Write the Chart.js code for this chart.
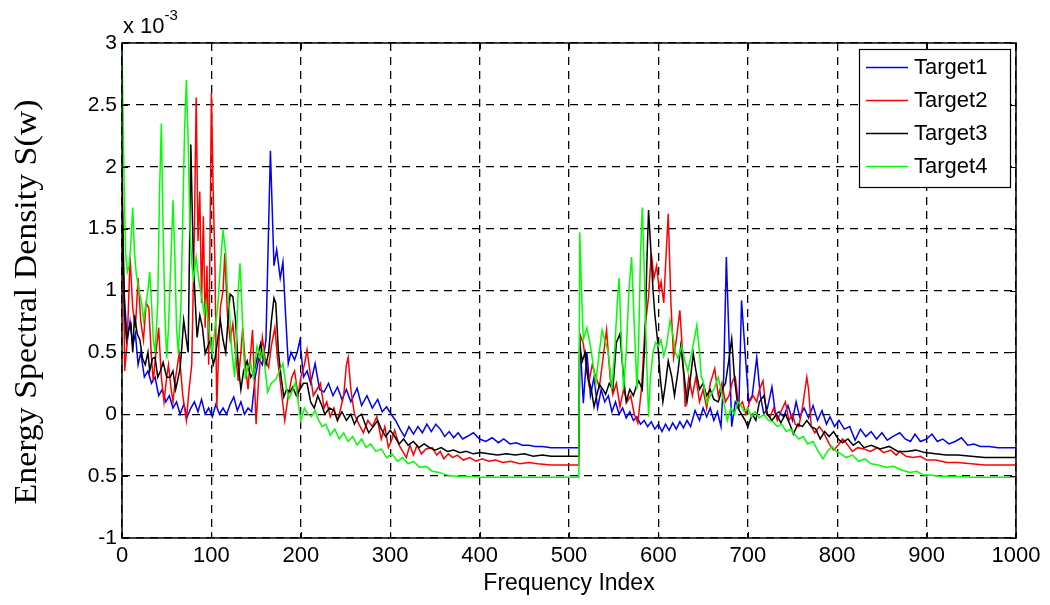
<!DOCTYPE html>
<html lang="en">
<head>
  <meta charset="UTF-8">
  <title>Energy Spectral Density</title>
  <script src="https://cdn.jsdelivr.net/npm/chart.js"></script>
  <style>
    * { margin: 0; padding: 0; box-sizing: border-box; }
    body { background: #fff; width: 1050px; height: 605px; overflow: hidden; }
    .chart-box { position: relative; width: 1050px; height: 605px; }
  </style>
</head>
<body>
  <div class="chart-box">
    <canvas id="esdChart"></canvas>
  </div>

  <script>
    // values in units of 1e-3 as [frequency index, S(w)]
    const target1 = [
      [0,1.35],[3,0.9],[6,0.6],[9,0.75],[12,0.55],[15,0.65],[18,0.4],[21,0.5],[25,0.3],[29,0.35],
      [33,0.25],[37,0.3],[41,0.15],[45,0.2],[49,0.1],[53,0.15],[57,0.05],[61,0.1],[65,0.0],[69,0.08],
      [73,-0.02],[77,0.05],[81,0.1],[85,0.02],[89,0.12],[93,0.0],[97,0.05],[101,-0.02],[105,0.08],[109,0.0],
      [113,0.05],[117,0.0],[121,0.08],[125,0.14],[129,0.03],[133,0.1],[137,0.0],[141,0.05],[145,0.02],[149,0.3],
      [153,0.45],[157,0.4],[161,0.6],[166,2.13],[170,1.2],[173,1.33],[177,1.1],[180,1.23],[183,0.8],[186,0.41],
      [189,0.5],[193,0.44],[196,0.5],[199,0.6],[203,0.3],[207,0.35],[211,0.25],[216,0.41],[221,0.2],[226,0.18],
      [231,0.25],[236,0.15],[241,0.22],[246,0.12],[251,0.2],[256,0.1],[263,0.21],[268,0.07],[274,0.15],[280,0.05],
      [286,0.12],[291,0.02],[296,0.06],[301,0.0],[306,-0.05],[311,-0.12],[316,-0.18],[321,-0.1],[326,-0.16],[331,-0.1],
      [336,-0.15],[341,-0.08],[346,-0.14],[351,-0.08],[356,-0.12],[361,-0.18],[366,-0.14],[371,-0.19],[376,-0.15],[381,-0.2],
      [386,-0.18],[393,-0.15],[400,-0.2],[407,-0.22],[414,-0.19],[421,-0.23],[427,-0.2],[434,-0.24],[441,-0.23],[448,-0.25],
      [455,-0.25],[462,-0.26],[470,-0.26],[480,-0.27],[490,-0.27],[500,-0.27],[511,-0.27],
      [512,0.65],[516,0.09],[520,0.5],[524,0.15],[528,0.3],[532,0.05],[536,0.2],[540,0.1],[544,0.15],[548,0.02],
      [552,0.1],[556,0.0],[560,0.05],[564,-0.03],[568,0.02],[572,-0.05],[576,-0.02],[580,-0.08],[584,-0.05],[588,-0.1],
      [592,-0.06],[596,-0.12],[600,-0.08],[604,-0.14],[608,-0.08],[612,-0.13],[616,-0.07],[620,-0.12],[624,-0.06],[628,-0.11],
      [632,-0.05],[636,-0.1],[641,0.03],[646,-0.05],[650,0.05],[654,-0.02],[658,0.05],[662,-0.05],[666,0.02],[670,-0.1],
      [673,0.3],[676,1.27],[679,0.6],[682,-0.1],[686,0.1],[690,0.05],[693,0.92],[697,0.5],[701,0.1],[705,0.15],
      [710,0.46],[714,0.15],[718,0.0],[722,0.05],[727,0.22],[731,0.0],[735,0.02],[740,-0.02],[745,0.07],[750,-0.05],
      [754,0.1],[758,-0.02],[763,0.05],[768,-0.03],[773,0.07],[778,-0.05],[783,0.03],[788,-0.08],[792,-0.02],[797,-0.1],
      [802,-0.05],[808,-0.12],[814,-0.1],[820,-0.21],[826,-0.12],[832,-0.18],[838,-0.14],[844,-0.2],[850,-0.15],[856,-0.21],
      [862,-0.18],[870,-0.15],[876,-0.2],[882,-0.22],[887,-0.16],[893,-0.22],[900,-0.2],[906,-0.16],[912,-0.22],[918,-0.2],
      [925,-0.24],[932,-0.22],[939,-0.19],[946,-0.25],[953,-0.24],[960,-0.26],[970,-0.26],[980,-0.27],[990,-0.27],[1000,-0.27]
    ];

    const target2 = [
      [0,2.15],[3,0.35],[6,0.6],[9,1.27],[12,0.86],[15,0.7],[18,1.1],[21,0.75],[24,0.6],[27,0.9],
      [30,0.86],[33,0.45],[35,0.27],[38,0.5],[41,0.7],[44,0.3],[47,0.1],[50,0.3],[52,0.4],[55,0.2],
      [57,0.1],[60,0.3],[64,0.49],[68,0.15],[72,-0.05],[75,0.2],[78,0.4],[81,1.5],[83,2.56],[85,1.4],
      [87,1.8],[89,0.9],[91,1.6],[93,0.7],[95,1.2],[97,0.4],[99,1.8],[100,2.6],[102,1.8],[104,1.2],
      [106,0.05],[108,0.5],[110,0.86],[113,1.0],[115,1.3],[118,0.8],[121,0.6],[124,0.73],[127,0.5],[130,0.27],
      [133,0.5],[135,0.7],[138,0.4],[141,0.2],[144,0.5],[146,0.68],[148,0.3],[150,-0.08],[153,0.3],[157,0.62],
      [160,0.45],[164,0.38],[167,0.55],[171,0.7],[174,0.45],[178,0.2],[182,-0.05],[186,0.15],[190,0.3],[193,0.35],
      [197,0.15],[200,0.3],[204,0.4],[207,0.52],[211,0.3],[214,0.15],[218,0.2],[222,0.25],[226,0.05],[229,0.1],
      [233,-0.02],[237,0.05],[241,-0.05],[244,0.03],[248,0.15],[251,0.4],[253,0.46],[256,0.2],[260,0.0],[265,-0.08],
      [270,-0.15],[275,-0.05],[280,-0.1],[285,-0.02],[290,-0.2],[294,-0.1],[298,-0.27],[302,-0.2],[305,-0.13],[310,-0.25],
      [314,-0.3],[318,-0.35],[322,-0.25],[326,-0.33],[330,-0.25],[335,-0.32],[340,-0.28],[347,-0.27],[352,-0.33],[356,-0.3],
      [360,-0.36],[365,-0.32],[370,-0.35],[375,-0.33],[382,-0.37],[389,-0.35],[396,-0.38],[403,-0.36],[410,-0.38],[418,-0.37],
      [426,-0.39],[435,-0.38],[445,-0.4],[455,-0.39],[465,-0.4],[480,-0.41],[495,-0.41],[511,-0.41],
      [512,0.65],[516,0.57],[520,0.35],[522,0.25],[526,0.4],[530,0.3],[534,0.22],[538,0.45],[542,0.68],[546,0.3],
      [549,0.16],[553,0.25],[557,0.06],[561,0.2],[565,0.1],[569,0.15],[573,0.0],[577,-0.07],[581,0.2],[585,0.7],
      [589,0.95],[592,1.3],[595,1.1],[598,1.2],[601,1.0],[603,1.07],[606,0.9],[608,1.2],[611,1.62],[614,0.9],
      [617,0.46],[620,0.6],[624,0.84],[627,0.5],[630,0.06],[634,0.3],[638,0.15],[642,0.3],[646,0.1],[650,0.2],
      [654,0.05],[658,0.25],[663,0.37],[667,0.15],[671,0.25],[675,0.1],[679,0.15],[683,0.27],[686,0.3],[690,0.06],
      [694,0.1],[698,0.0],[702,0.1],[706,0.15],[710,0.1],[713,0.2],[717,0.27],[721,0.0],[725,-0.02],[729,0.05],
      [733,-0.05],[737,0.02],[742,0.1],[746,-0.05],[750,0.0],[753,-0.08],[757,-0.1],[761,0.05],[764,0.2],[766,0.3],
      [768,0.2],[771,-0.1],[775,-0.15],[780,-0.1],[785,-0.15],[791,-0.24],[796,-0.29],[801,-0.25],[806,-0.2],[811,-0.24],
      [817,-0.3],[823,-0.27],[830,-0.28],[837,-0.3],[845,-0.27],[852,-0.31],[860,-0.29],[866,-0.33],[870,-0.3],[877,-0.34],
      [885,-0.35],[893,-0.34],[900,-0.37],[910,-0.37],[923,-0.39],[935,-0.39],[950,-0.4],[965,-0.41],[980,-0.41],[1000,-0.41]
    ];

    const target3 = [
      [0,1.8],[3,0.8],[5,0.6],[8,0.7],[10,0.73],[12,0.5],[14,0.8],[17,0.65],[20,0.6],[23,0.45],
      [26,0.4],[29,0.5],[31,0.35],[34,0.45],[37,0.46],[40,0.3],[43,0.35],[46,0.42],[50,0.3],[54,0.3],
      [57,0.35],[60,0.2],[63,0.3],[65,0.37],[67,0.55],[69,0.76],[72,0.6],[74,0.5],[76,1.6],[77,2.18],
      [79,1.5],[80,1.2],[82,0.9],[84,0.62],[87,0.8],[90,0.7],[93,0.49],[96,0.55],[99,0.6],[102,0.4],
      [104,0.45],[107,0.6],[110,0.76],[113,0.6],[116,0.5],[119,0.8],[121,0.97],[124,0.95],[127,0.76],[130,0.4],
      [133,0.2],[136,0.35],[140,0.43],[144,0.3],[148,0.35],[151,0.45],[155,0.57],[158,0.45],[161,0.4],[164,0.5],
      [167,0.75],[170,0.94],[172,0.9],[175,0.5],[178,0.3],[181,0.14],[184,0.2],[188,0.18],[191,0.22],[195,0.15],
      [199,0.2],[203,0.25],[207,0.25],[211,0.1],[215,0.05],[219,0.15],[223,0.08],[227,0.0],[232,0.05],[237,0.03],
      [241,-0.05],[246,0.02],[251,-0.05],[256,0.0],[260,-0.08],[264,-0.02],[268,0.0],[272,-0.08],[276,-0.15],[281,-0.1],
      [286,-0.05],[290,-0.12],[295,-0.18],[300,-0.13],[305,-0.18],[310,-0.24],[315,-0.2],[320,-0.25],[326,-0.22],[332,-0.27],
      [338,-0.24],[344,-0.27],[350,-0.29],[357,-0.27],[364,-0.3],[371,-0.29],[378,-0.31],[385,-0.3],[393,-0.32],[401,-0.31],
      [410,-0.32],[420,-0.33],[430,-0.32],[440,-0.33],[450,-0.32],[460,-0.34],[470,-0.33],[480,-0.34],[495,-0.34],[511,-0.34],
      [512,0.54],[515,0.43],[518,0.5],[521,0.3],[525,0.2],[528,0.06],[531,0.15],[534,0.24],[538,0.2],[541,0.16],
      [545,0.25],[549,0.2],[553,0.58],[557,0.65],[561,0.3],[564,0.1],[568,0.2],[572,0.15],[575,0.22],[578,0.27],
      [582,0.2],[585,0.6],[587,1.2],[589,1.65],[591,1.4],[594,1.0],[596,0.81],[599,0.6],[602,0.3],[605,0.1],
      [608,0.25],[611,0.43],[615,0.3],[618,0.15],[622,0.35],[625,0.55],[629,0.3],[632,0.1],[636,0.3],[639,0.49],
      [642,0.35],[646,0.2],[650,0.25],[654,0.15],[658,0.2],[662,0.12],[667,0.1],[671,0.2],[675,0.25],[679,0.45],
      [682,0.61],[685,0.3],[689,0.05],[693,0.0],[697,-0.05],[700,-0.1],[705,0.0],[709,-0.05],[713,0.1],[718,0.15],
      [722,0.0],[727,-0.05],[732,0.0],[737,-0.07],[742,0.0],[747,-0.08],[751,-0.16],[756,-0.08],[761,-0.1],[766,-0.05],
      [771,-0.1],[776,-0.12],[781,-0.2],[786,-0.14],[791,-0.18],[796,-0.14],[801,-0.2],[806,-0.23],[812,-0.2],[818,-0.25],
      [824,-0.22],[830,-0.27],[838,-0.25],[848,-0.28],[858,-0.26],[868,-0.3],[878,-0.3],[888,-0.29],[898,-0.31],[910,-0.32],
      [922,-0.33],[935,-0.33],[950,-0.34],[965,-0.35],[980,-0.35],[1000,-0.35]
    ];

    const target4 = [
      [0,2.95],[2,2.0],[4,1.3],[6,1.15],[8,1.2],[10,1.4],[12,1.67],[14,1.3],[16,1.13],[19,1.0],
      [22,0.9],[24,0.76],[27,0.9],[29,1.0],[31,1.15],[33,0.9],[35,0.6],[37,0.5],[40,0.9],[42,1.8],
      [44,2.35],[46,1.5],[48,0.8],[50,0.45],[52,0.7],[55,1.3],[57,1.73],[59,1.3],[61,0.7],[63,0.49],
      [66,0.9],[68,1.6],[70,2.3],[72,2.7],[74,2.2],[76,1.5],[78,1.22],[80,1.1],[83,1.27],[86,1.08],
      [89,0.95],[92,0.81],[94,0.9],[97,0.7],[101,0.49],[104,0.7],[107,0.86],[110,1.2],[113,1.49],[116,1.3],
      [118,1.0],[120,0.86],[123,0.5],[126,0.3],[128,0.6],[130,1.0],[132,1.22],[134,0.9],[136,0.5],[138,0.3],
      [141,0.38],[144,0.41],[147,0.3],[151,0.55],[155,0.45],[158,0.52],[161,0.3],[163,0.18],[167,0.25],[172,0.28],
      [176,0.35],[180,0.41],[184,0.2],[187,0.13],[191,0.2],[194,0.26],[197,0.1],[200,-0.05],[204,0.05],[208,0.0],
      [212,-0.02],[216,0.03],[220,-0.05],[224,-0.1],[228,-0.08],[233,-0.17],[238,-0.12],[243,-0.2],[248,-0.15],[253,-0.22],
      [258,-0.18],[263,-0.25],[268,-0.2],[273,-0.27],[278,-0.24],[284,-0.3],[290,-0.28],[296,-0.35],[302,-0.32],[308,-0.38],
      [314,-0.35],[320,-0.4],[326,-0.38],[333,-0.43],[340,-0.42],[347,-0.46],[355,-0.47],[363,-0.49],[372,-0.5],[385,-0.5],
      [400,-0.51],[420,-0.51],[450,-0.51],[480,-0.51],[511,-0.51],
      [512,1.47],[514,1.0],[516,0.6],[520,0.7],[524,0.55],[527,0.4],[530,0.25],[533,0.45],[537,0.68],[540,0.6],
      [544,0.5],[548,0.2],[551,0.5],[554,0.9],[556,1.1],[558,0.7],[561,0.2],[564,0.5],[567,1.0],[570,1.27],
      [572,0.9],[576,0.2],[578,0.6],[580,1.3],[582,1.67],[584,1.2],[587,0.4],[589,-0.02],[591,0.3],[594,0.5],
      [597,0.58],[600,0.55],[603,0.6],[606,0.47],[609,0.55],[613,0.76],[616,0.65],[619,0.5],[622,0.45],[626,0.55],
      [630,0.42],[633,0.35],[636,0.45],[640,0.6],[643,0.72],[646,0.5],[648,0.3],[650,0.27],[654,0.09],[658,0.15],
      [662,0.2],[667,0.3],[670,0.2],[673,0.1],[677,-0.05],[681,0.05],[685,0.0],[689,0.1],[692,0.08],[696,0.02],
      [700,0.05],[704,-0.02],[708,0.02],[713,-0.03],[718,0.0],[723,-0.05],[728,-0.06],[733,-0.1],[738,-0.08],[743,-0.14],
      [748,-0.12],[752,-0.16],[757,-0.2],[762,-0.18],[767,-0.24],[773,-0.22],[778,-0.29],[784,-0.36],[789,-0.3],[794,-0.26],
      [799,-0.3],[804,-0.32],[810,-0.35],[817,-0.33],[824,-0.38],[831,-0.36],[838,-0.4],[846,-0.41],[855,-0.43],[863,-0.42],
      [872,-0.45],[881,-0.47],[889,-0.46],[896,-0.49],[905,-0.49],[915,-0.5],[930,-0.5],[950,-0.51],[975,-0.51],[1000,-0.51]
    ];

    const seriesNames = ['Target1', 'Target2', 'Target3', 'Target4'];
    const seriesColors = ['#0000ff', '#ff0000', '#000000', '#00ff00'];
    const xTickValues = [0, 100, 200, 300, 400, 500, 600, 700, 800, 900, 1000];
    const yTickValues = [-1, -0.5, 0, 0.5, 1, 1.5, 2, 2.5, 3];
    const yTickLabels = ['-1', '0.5', '0', '0.5', '1', '1.5', '2', '2.5', '3'];
    const xTitle = 'Frequency Index';
    const yTitle = 'Energy Spectral Density S(w)';

    const sans = '"Liberation Sans", Arial, sans-serif';
    const serif = '"Liberation Serif", "Times New Roman", serif';

    const toPoints = rows => rows.map(r => ({ x: r[0], y: r[1] }));

    // axes box, inward ticks, titles, exponent and legend drawn by hand (MATLAB look)
    const matlabFrame = {
      id: 'matlabFrame',
      afterDatasetsDraw(chart) {
        const { ctx, chartArea: a, scales } = chart;
        ctx.save();
        ctx.strokeStyle = '#000';
        ctx.lineWidth = 1.5;
        ctx.strokeRect(a.left, a.top, a.right - a.left, a.bottom - a.top);
        ctx.lineWidth = 1;
        ctx.beginPath();
        xTickValues.forEach(v => {
          const px = Math.round(scales.x.getPixelForValue(v)) + 0.5;
          ctx.moveTo(px, a.bottom); ctx.lineTo(px, a.bottom - 6);
          ctx.moveTo(px, a.top); ctx.lineTo(px, a.top + 6);
        });
        yTickValues.forEach(v => {
          const py = Math.round(scales.y.getPixelForValue(v)) + 0.5;
          ctx.moveTo(a.left, py); ctx.lineTo(a.left + 6, py);
          ctx.moveTo(a.right, py); ctx.lineTo(a.right - 6, py);
        });
        ctx.stroke();
        ctx.restore();
      },
      afterDraw(chart) {
        const { ctx, chartArea: a } = chart;
        ctx.save();
        ctx.fillStyle = '#000';

        // exponent
        ctx.font = '22px ' + sans;
        ctx.textAlign = 'left';
        ctx.textBaseline = 'alphabetic';
        ctx.fillText('x 10', a.left + 1, 33);
        const w10 = ctx.measureText('x 10').width;
        ctx.font = '15px ' + sans;
        ctx.fillText('-3', a.left + 1 + w10, 20);

        // x title
        ctx.font = '23px ' + sans;
        ctx.textAlign = 'center';
        ctx.fillText(xTitle, (a.left + a.right) / 2, 590);

        // y title
        ctx.save();
        ctx.translate(36, 302);
        ctx.rotate(-Math.PI / 2);
        ctx.font = '32px ' + serif;
        const wy = ctx.measureText(yTitle).width;
        ctx.scale(405 / wy, 1);
        ctx.textAlign = 'center';
        ctx.fillText(yTitle, 0, 0);
        ctx.restore();

        // legend
        const lx = 859, ly = 49, lw = 151, lh = 138;
        ctx.fillStyle = '#fff';
        ctx.fillRect(lx, ly, lw, lh);
        ctx.strokeStyle = '#000';
        ctx.lineWidth = 1.2;
        ctx.strokeRect(lx + 0.5, ly + 0.5, lw, lh);
        ctx.font = '22px ' + sans;
        ctx.textAlign = 'left';
        ctx.textBaseline = 'middle';
        seriesNames.forEach((name, i) => {
          const y = 67 + i * 33;
          ctx.strokeStyle = seriesColors[i];
          ctx.lineWidth = 1.3;
          ctx.beginPath();
          ctx.moveTo(866, y + 0.5);
          ctx.lineTo(908, y + 0.5);
          ctx.stroke();
          ctx.fillStyle = '#000';
          ctx.fillText(name, 914, y + 1);
        });
        ctx.restore();
      }
    };

    const allSeries = [target1, target2, target3, target4];

    new Chart(document.getElementById('esdChart'), {
      type: 'line',
      data: {
        datasets: allSeries.map((rows, i) => ({
          label: seriesNames[i],
          data: toPoints(rows),
          borderColor: seriesColors[i],
          backgroundColor: seriesColors[i],
          borderWidth: 1.5,
          pointRadius: 0,
          tension: 0,
          order: 3 - i
        }))
      },
      options: {
        responsive: true,
        maintainAspectRatio: false,
        animation: false,
        events: [],
        layout: { padding: { top: 43, right: 34, left: 0, bottom: 0 } },
        plugins: {
          legend: { display: false },
          tooltip: { enabled: false }
        },
        scales: {
          x: {
            type: 'linear',
            min: 0,
            max: 1000,
            afterFit: s => { s.height = 67; },
            afterBuildTicks: s => { s.ticks = xTickValues.map(v => ({ value: v })); },
            grid: { color: '#000', lineWidth: 1.3, drawTicks: false },
            border: { display: false, dash: [8, 6] },
            ticks: {
              color: '#000',
              font: { family: sans, size: 22 },
              padding: 5,
              maxRotation: 0,
              callback: v => String(v)
            }
          },
          y: {
            min: -1,
            max: 3,
            afterFit: s => { s.width = 122; },
            afterBuildTicks: s => { s.ticks = yTickValues.map(v => ({ value: v })); },
            grid: { color: '#000', lineWidth: 1.3, drawTicks: false },
            border: { display: false, dash: [8, 6] },
            ticks: {
              color: '#000',
              font: { family: sans, size: 21 },
              padding: 5,
              callback: v => yTickLabels[yTickValues.indexOf(v)]
            }
          }
        }
      },
      plugins: [matlabFrame]
    });
  </script>
</body>
</html>
